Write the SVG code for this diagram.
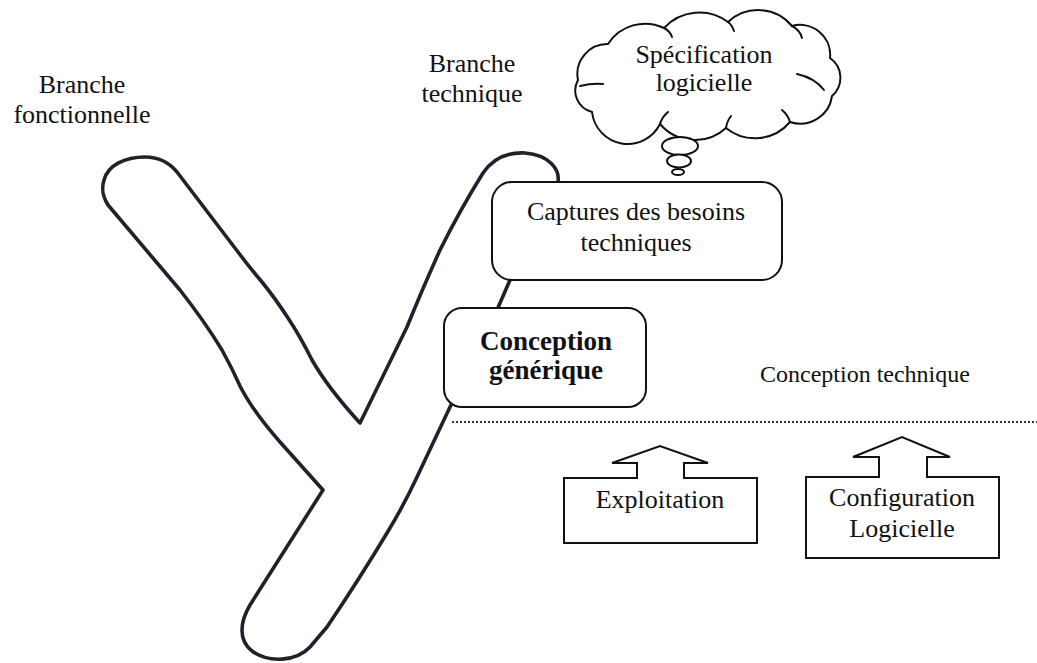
<svg xmlns="http://www.w3.org/2000/svg" width="1037" height="663" viewBox="0 0 1037 663">
  <style>
    .lbl { font-family: "Liberation Serif", "Times New Roman", serif; font-size: 26px; fill: #111; text-anchor: middle; }
    .bold { font-weight: bold; font-size: 27px; }
    .box { fill: #fff; stroke: #111; stroke-width: 2; }
    .ystroke { fill: none; stroke: #1e222b; stroke-width: 3.6; stroke-linejoin: round; }
    .cloud { fill: #fff; stroke: #111; stroke-width: 2; }
    .inner { fill: none; stroke: #111; stroke-width: 2; stroke-linecap: round; }
  </style>
  <rect width="1037" height="663" fill="#fff"/>

  <!-- Y outline: functional branch (left), technical branch (right), shared stem -->
  <g id="y-shape">
    <path class="ystroke" d="M 360,423 Q 328,388 312,360 Q 300,336 288,318 Q 275,298 262,282 Q 250,268 238,252 L 177,172
      C 168,161 158,157 145,157 C 125,157 108,165 104,180 C 101,190 103,197 108,205
      L 180,290 Q 205,322 222,350 Q 232,368 240,386 Q 252,410 280,442 L 323,490
      L 250,605 C 240,622 238,640 252,651 C 268,663 296,662 310,647
      L 327,627 Q 360,578 387,533 Q 404,505 417,477 L 450,407 L 497,310 L 510,280 L 558,182
      C 560,170 550,155 525,153 C 505,152 492,160 483,173
      Q 460,210 440,250 Q 422,290 407,327 Z"/>
  </g>

  <!-- branch labels -->
  <g id="label-fonctionnelle">
    <text class="lbl" x="82" y="93">Branche</text>
    <text class="lbl" x="82" y="123">fonctionnelle</text>
  </g>
  <g id="label-technique">
    <text class="lbl" x="472" y="72">Branche</text>
    <text class="lbl" x="472" y="102">technique</text>
  </g>

  <!-- thought cloud -->
  <g id="cloud-specification">
    <path class="cloud" d="M 592,112
      A 22,22 0 0 1 578,80
      A 30,30 0 0 1 608,44
      A 44,44 0 0 1 664,28
      A 48,48 0 0 1 728,22
      A 44,44 0 0 1 792,26
      A 30,30 0 0 1 830,58
      A 24,24 0 0 1 832,96
      A 32,32 0 0 1 790,122
      A 46,46 0 0 1 726,128
      A 46,46 0 0 1 660,124
      A 36,36 0 0 1 592,112 Z"/>
    <path class="inner" d="M 580,86 Q 592,83 603,84"/>
    <path class="inner" d="M 797,74 Q 815,78 824,90"/>
    <path class="inner" d="M 792,26 Q 800,30 802,38"/>
    <path class="inner" d="M 664,28 Q 670,31 672,37"/>
    <path class="inner" d="M 728,22 Q 732,25 734,31"/>
    <path class="inner" d="M 660,124 Q 662,117 668,112"/>
    <path class="inner" d="M 726,128 Q 727,121 731,116"/>
    <path class="inner" d="M 790,122 Q 788,115 782,110"/>
    <text class="lbl" x="704" y="63">Spécification</text>
    <text class="lbl" x="704" y="91">logicielle</text>
    <ellipse class="cloud" cx="680" cy="146" rx="18" ry="9"/>
    <ellipse class="cloud" cx="679" cy="161" rx="12" ry="6.5"/>
    <ellipse class="cloud" cx="678" cy="172" rx="6" ry="3"/>
  </g>

  <!-- process boxes -->
  <g id="box-captures">
    <rect class="box" x="492" y="182" width="290" height="98" rx="20" ry="20"/>
    <text class="lbl" x="636" y="220">Captures des besoins</text>
    <text class="lbl" x="636" y="251">techniques</text>
  </g>
  <g id="box-conception-generique">
    <rect class="box" x="444" y="308" width="202" height="99" rx="18" ry="18"/>
    <text class="lbl bold" x="546" y="350">Conception</text>
    <text class="lbl bold" x="546" y="379">générique</text>
  </g>

  <!-- boundary of the technical design zone -->
  <g id="connectors">
    <line x1="452" y1="422" x2="1037" y2="422" stroke="#333" stroke-width="2" stroke-dasharray="2 2"/>
  </g>
  <g id="label-conception-technique">
    <text class="lbl" x="760" y="382" style="text-anchor:start;font-size:24px">Conception technique</text>
  </g>

  <!-- up-arrow callouts -->
  <g id="callout-exploitation">
    <path class="box" d="M 564,478 L 637,478 L 637,463 L 612,463 L 660,446 L 708,463 L 684,463 L 684,478 L 757,478 L 757,543 L 564,543 Z"/>
    <text class="lbl" x="660" y="508">Exploitation</text>
  </g>
  <g id="callout-configuration">
    <path class="box" d="M 806,477 L 879,477 L 879,457 L 853,457 L 902,437 L 950,457 L 927,457 L 927,477 L 999,477 L 999,558 L 806,558 Z"/>
    <text class="lbl" x="902" y="506">Configuration</text>
    <text class="lbl" x="902" y="537">Logicielle</text>
  </g>
</svg>
